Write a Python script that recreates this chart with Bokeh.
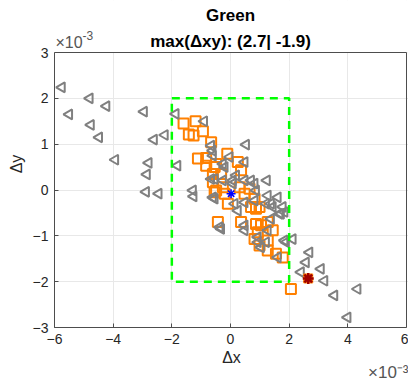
import math
from bokeh.plotting import figure
from bokeh.models import FixedTicker, Range1d, Title, Label
from bokeh.embed import file_html
from bokeh.resources import INLINE

# ---- data (units of 1e-3) ----
tri_x = [-5.75, -5.5, -4.8, -4.23, -4.76, -4.48, -3.93, -2.95, -2.61, -2.24, -2.79, -2.85, -2.88, -2.45,
         -1.87, -1.81, -1.28, -1.26, -0.9, -0.6,
         -0.66, -0.61, 0.53, -0.03, 0.48, -0.2, 1.24, 0.82, 0.48, 0.08, -0.54, 1.27, 1.61, 0.14, 0.48,
         0.82, 1.44, 1.78, 0.25, 1.21, 1.67, 1.84, 1.38, -0.32, 0.48, 1.27, 0.93, 1.21, 1.04, 1.61,
         -0.6, -0.26, -0.66, -0.26, 0.19, 0.08, 0.7, 0.87, -0.54, 1.38, 1.72, -0.37, 0.48, 1.84, 0.93,
         2.12, 1.89, 2.69, 2.57, 3.08, 2.4, 3.2, 3.54, 4.33, 3.99]
tri_y = [2.24, 1.65, 2.0, 1.83, 1.42, 1.15, 0.66, 1.71, 1.10, 1.20, 0.59, 0.34, -0.04, -0.08,
         1.66, 0.53, -0.01, -0.14, 1.5, -0.16,
         0.97, 0.86, 0.99, 0.72, 0.61, 0.5, 0.21, 0.14, 0.21, 0.21, 0.24, -0.12, -0.16, -0.3, -0.27,
         -0.23, -0.37, -0.37, -0.45, -0.3, -0.52, -0.48, -0.63, -0.85, -0.88, -0.88, -1.03, -1.14, -1.25, -1.47,
         0.75, 0.57, 0.24, 0.21, 0.32, 0.14, 0.21, -0.01, -0.19, -0.3, -0.52, -0.81, -0.77, -1.1, -1.14,
         -1.07, -1.14, -1.36, -1.58, -1.72, -1.79, -1.98, -2.3, -2.16, -2.78]
sq_x = [-1.6, -1.19, -0.94, -1.42, -1.26, -0.66, -1.11, -0.83, -0.83, -0.54, -0.6, -0.49, -0.11, 0.25,
        0.36, -0.49, -0.6, -0.32, -0.26, -0.54, -0.2, 0.31, 0.65, 0.48, 0.82, -0.09, 0.7, 0.87, 0.99,
        -0.43, 0.36, 0.87, 1.04, 1.27, 1.44, 0.93, 0.82, 1.27, 0.99, 1.27, 1.55, 1.78, 2.06]
sq_y = [1.45, 1.5, 1.28, 1.21, 1.19, 1.04, 0.69, 0.70, 0.53, 0.5, 0.17, -0.01, 0.79, 0.61,
        0.43, 0.57, 0.35, 0.35, 0.06, -0.05, -0.08, 0.06, 0.03, -0.08, -0.19, -0.3, -0.37, -0.41, -0.37,
        -0.7, -0.7, -0.74, -0.77, -0.7, -0.88, -0.92, -1.07, -1.1, -1.21, -1.32, -1.39, -1.47, -2.16]
center_x = [0.02]
center_y = [-0.08]
max_x = [2.65]
max_y = [-1.93]
box_limit = 2.0
x_ticks = [-6, -4, -2, 0, 2, 4, 6]
y_ticks = [-3, -2, -1, 0, 1, 2, 3]
title_1 = "Green"
title_2 = "max(\u0394xy): (2.7| -1.9)"
exp_base = "\u00d710"
exp_power = "-3"
exp_text = "\u00d710\u207b\u00b3"

FONT = "Liberation Sans"
TXT = "#262626"
AX = "#4d4d4d"

# layout in pixels: axes box 352 x 275 at (54, 52); the frame is extended upward by the
# 52 px title band (masked white) so that texts there are not clipped.
BOX_W, BOX_H, LEFT, TOP, RIGHT_PAD = 352, 275, 54, 52, 2
xmin, xmax = min(x_ticks), max(x_ticks)
ymin, ymax = min(y_ticks), max(y_ticks)
xs = BOX_W / (xmax - xmin)
ys = BOX_H / (ymax - ymin)

p = figure(frame_width=BOX_W + RIGHT_PAD, frame_height=BOX_H + TOP,
           x_range=Range1d(xmin, xmax + RIGHT_PAD / xs), y_range=Range1d(ymin, ymax + TOP / ys),
           output_backend="svg", toolbar_location=None,
           min_border_left=LEFT, min_border_right=0, min_border_top=0, min_border_bottom=54)
p.title.visible = False
p.outline_line_color = None
p.background_fill_color = "white"
p.border_fill_color = "white"

for ax, ticks in ((p.xaxis[0], x_ticks), (p.yaxis[0], y_ticks)):
    ax.ticker = FixedTicker(ticks=ticks)
    ax.bounds = (min(ticks), max(ticks))
    ax.minor_tick_line_color = None
    ax.major_tick_in = 4
    ax.major_tick_out = 0
    ax.axis_line_color = AX
    ax.major_tick_line_color = AX
    ax.major_label_text_font = FONT
    ax.major_label_text_font_size = "14px"
    ax.major_label_text_color = TXT
    ax.axis_label_text_font = FONT
    ax.axis_label_text_font_size = "16px"
    ax.axis_label_text_font_style = "normal"
    ax.axis_label_text_color = TXT

p.xaxis[0].axis_label = "\u0394x"
p.yaxis[0].axis_label = "\u0394y"
p.xaxis[0].major_label_standoff = 6
p.yaxis[0].major_label_standoff = 6
p.xaxis[0].axis_label_standoff = 2

p.xgrid.ticker = FixedTicker(ticks=x_ticks)
p.ygrid.ticker = FixedTicker(ticks=y_ticks)
p.grid.grid_line_color = "#e8e8e8"
p.grid.grid_line_width = 1

# white mask over the title band (hides grid lines there)
p.quad(left=[xmin - 1], right=[xmax + 1], bottom=[ymax], top=[ymax + 2],
       fill_color="white", line_color=None)

# markers
p.scatter(sq_x, sq_y, marker="square", size=10, line_color="#ff8000", line_width=2, fill_color=None)
p.scatter(tri_x, tri_y, marker="triangle", angle=math.pi / 2, size=10, line_color="#808080",
          line_width=2, fill_color=None)
p.quad(left=[-box_limit], right=[box_limit], bottom=[-box_limit], top=[box_limit],
       fill_color=None, line_color="#00ff00", line_width=2.5, line_dash="8 6")
p.scatter(center_x, center_y, marker="asterisk", size=9, line_color="#0000ff", line_width=1.5)
p.scatter(max_x, max_y, marker="square", size=9, line_color="#ff8000", fill_color="#ff8000")
p.scatter(max_x, max_y, marker="asterisk", size=11, line_color="#a00000", line_width=2.5)

# top and right edges of the axes box
p.segment(x0=[xmin, xmax], y0=[ymax, ymin], x1=[xmax, xmax], y1=[ymax, ymax],
          line_color=AX, line_width=1)

# titles and top-left exponent (inside the extended frame)
p.add_layout(Label(x=0, y=ymax, y_offset=11, text=title_2, text_align="center",
                   text_baseline="middle", text_font=FONT, text_font_size="17px",
                   text_font_style="bold", text_color="#000000"))
p.add_layout(Label(x=0, y=ymax, y_offset=37, text=title_1, text_align="center",
                   text_baseline="middle", text_font=FONT, text_font_size="17px",
                   text_font_style="bold", text_color="#000000"))
p.add_layout(Label(x=xmin, y=ymax, x_offset=1, y_offset=10, text=exp_base, text_align="left",
                   text_baseline="middle", text_font=FONT, text_font_size="16px",
                   text_color="#555555"))
p.add_layout(Label(x=xmin, y=ymax, x_offset=28, y_offset=17, text=exp_power, text_align="left",
                   text_baseline="middle", text_font=FONT, text_font_size="12px",
                   text_color="#555555"))

# bottom-right exponent
p.add_layout(Title(text=exp_text, align="right", text_font=FONT, text_font_size="17px",
                   text_font_style="normal", text_color="#555555", standoff=-16), "below")

open("out.html", "w").write(file_html(p, INLINE))
